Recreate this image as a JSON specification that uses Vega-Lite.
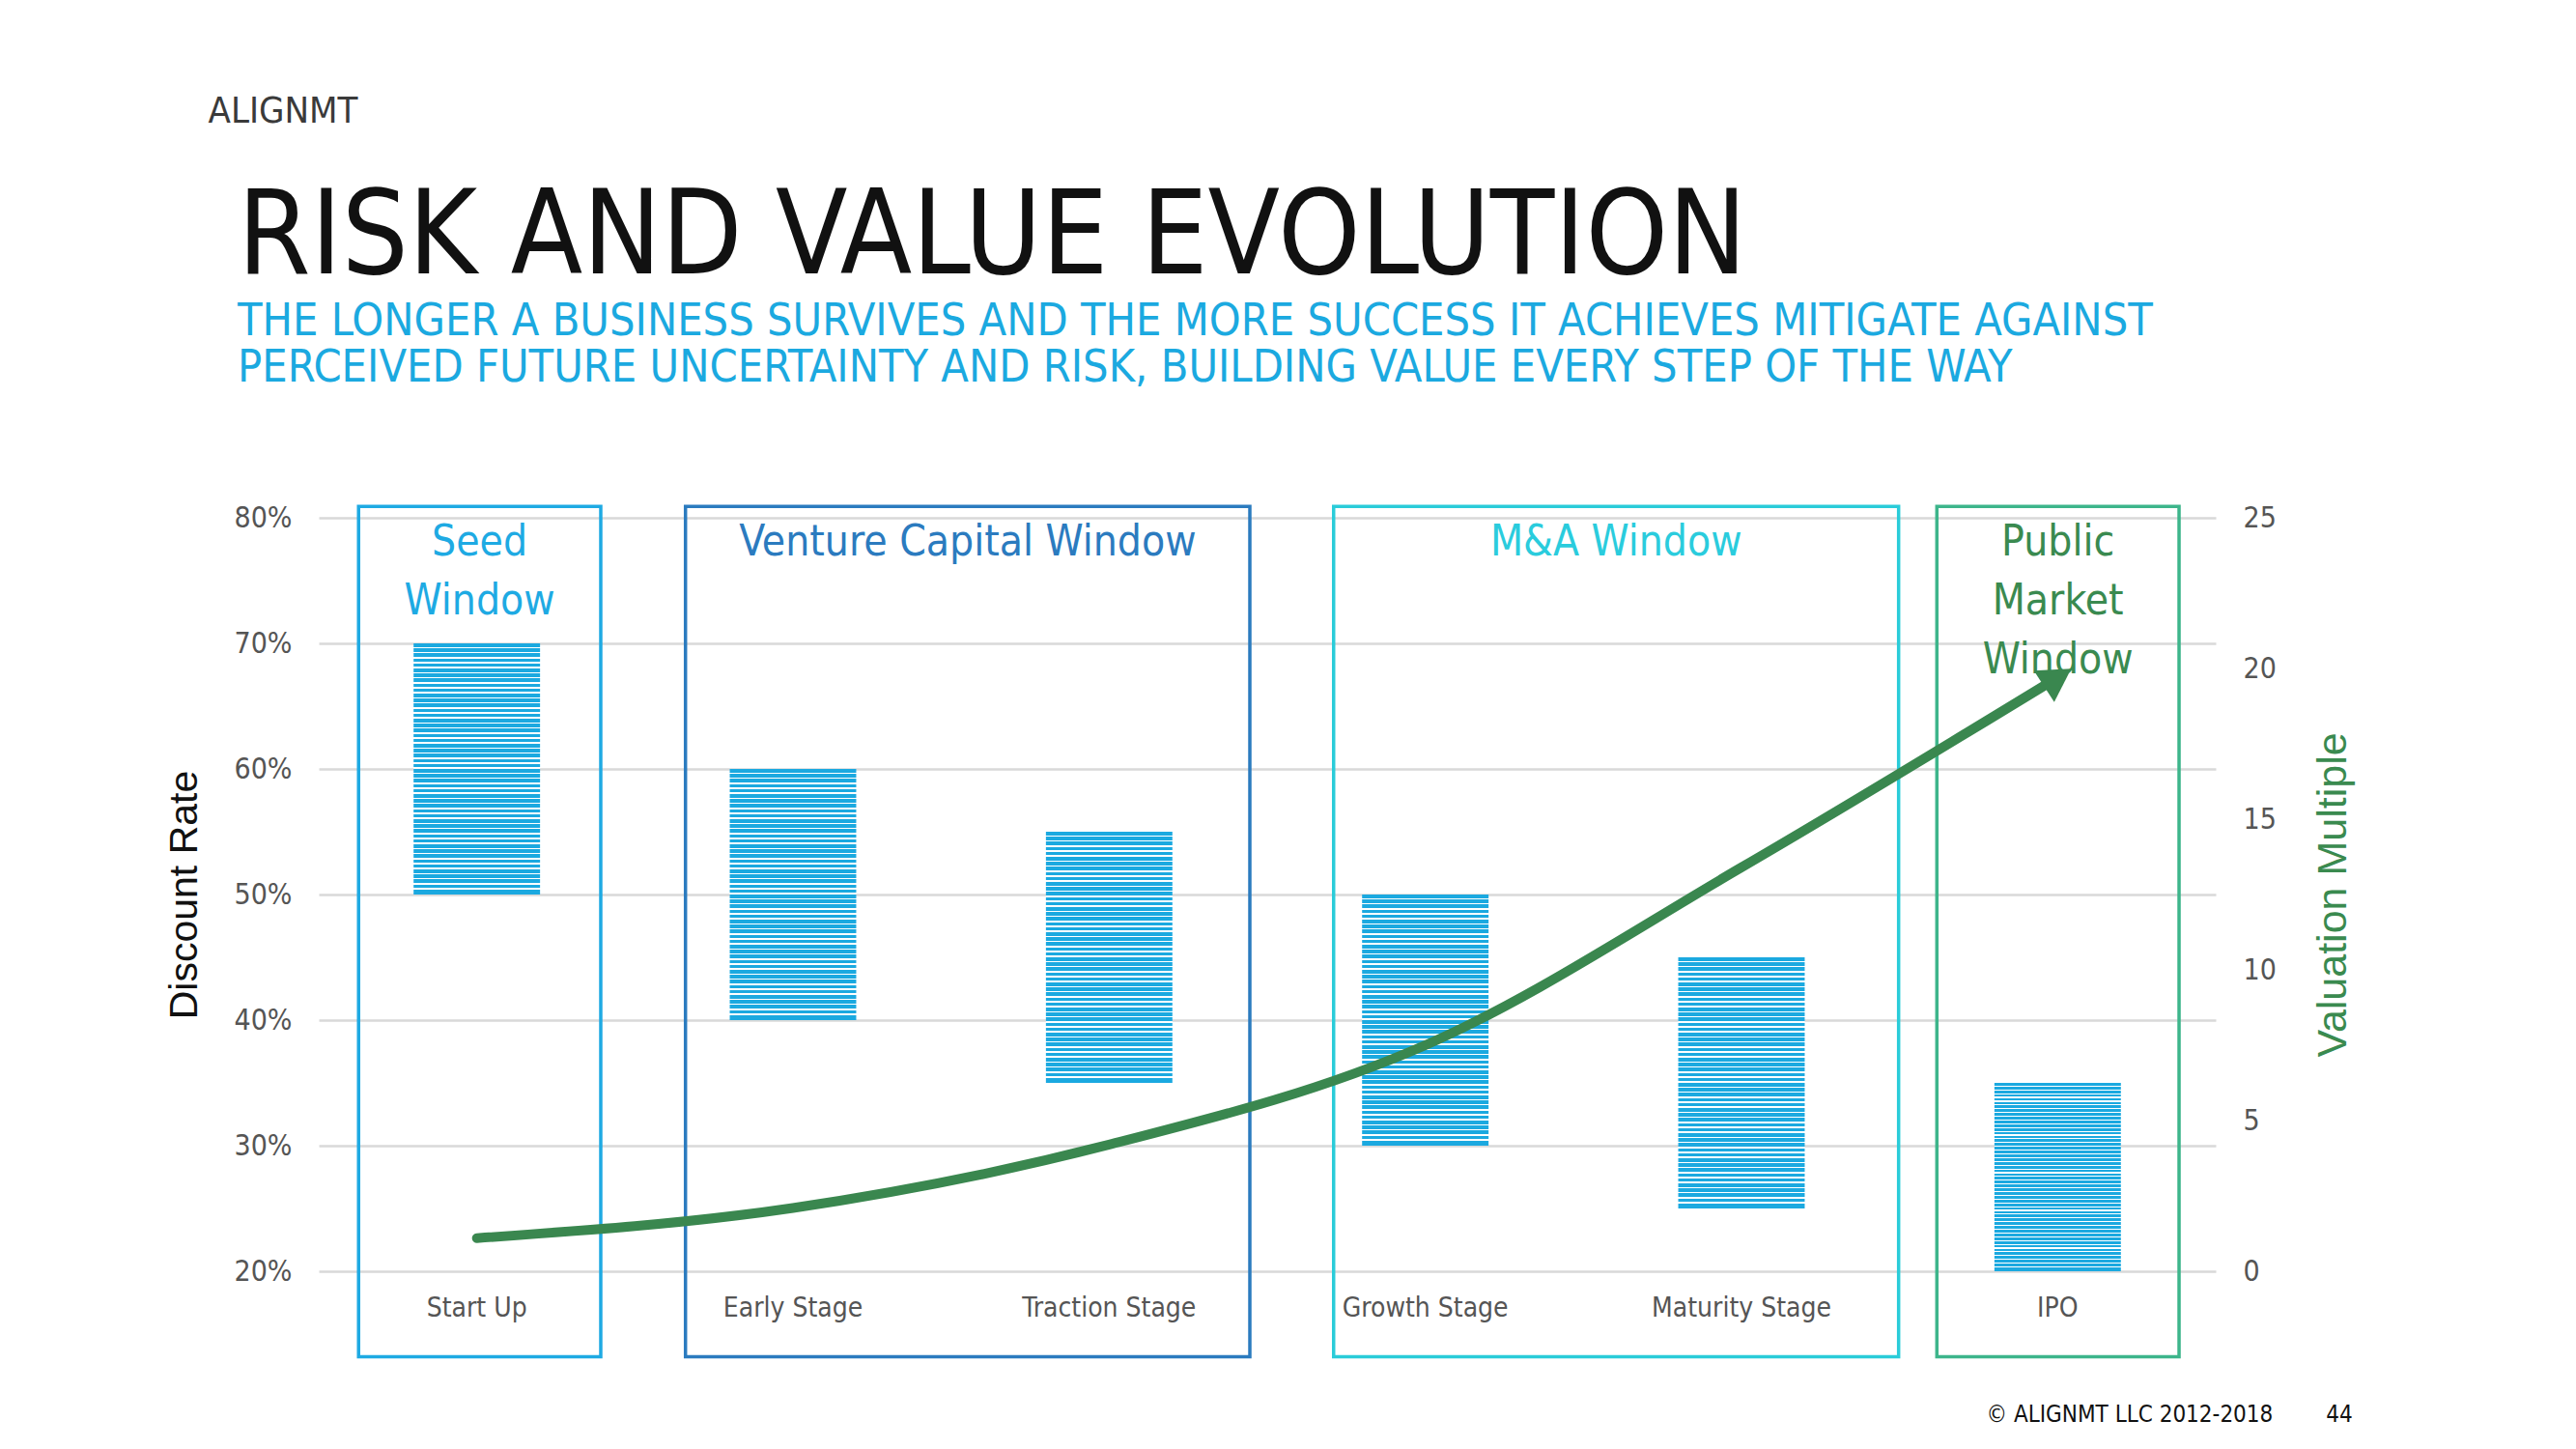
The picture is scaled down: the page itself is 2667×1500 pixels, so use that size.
{
  "$schema": "https://vega.github.io/schema/vega-lite/v6.json",
  "description": "Risk and value evolution: discount rate ranges by stage with valuation multiple curve",
  "autosize": "none",
  "width": 1964,
  "height": 780,
  "padding": {"left": 330, "top": 536, "right": 373, "bottom": 184},
  "background": "#ffffff",
  "title": {
    "text": "RISK AND VALUE EVOLUTION",
    "subtitle": [
      "THE LONGER A BUSINESS SURVIVES AND THE MORE SUCCESS IT ACHIEVES MITIGATE AGAINST",
      "PERCEIVED FUTURE UNCERTAINTY AND RISK, BUILDING VALUE EVERY STEP OF THE WAY"
    ],
    "anchor": "start",
    "frame": "group",
    "orient": "top",
    "dx": -84,
    "dy": 309,
    "offset": 0,
    "font": "DejaVu Sans Condensed, sans-serif",
    "fontSize": 121,
    "fontWeight": "normal",
    "color": "#111111",
    "subtitleFont": "DejaVu Sans Condensed, sans-serif",
    "subtitleFontSize": 46.5,
    "subtitleColor": "#1ba9e0",
    "subtitleLineHeight": 48,
    "subtitlePadding": 2
  },
  "datasets": {
    "stages": [
      {"stage": "Start Up", "lo": 0.5, "hi": 0.7, "mult": 1.1},
      {"stage": "Early Stage", "lo": 0.4, "hi": 0.6, "mult": 2.1},
      {"stage": "Traction Stage", "lo": 0.35, "hi": 0.55, "mult": 4.2},
      {"stage": "Growth Stage", "lo": 0.3, "hi": 0.5, "mult": 7.5},
      {"stage": "Maturity Stage", "lo": 0.25, "hi": 0.45, "mult": 13.4},
      {"stage": "IPO", "lo": 0.2, "hi": 0.35, "mult": 19.7}
    ],
    "windows": [
      {"window": "Seed", "label": "Seed\nWindow", "x0": 0.126, "x1": 0.892},
      {"window": "VC", "label": "Venture Capital Window", "x0": 1.16, "x1": 2.945},
      {"window": "MA", "label": "M&A Window", "x0": 3.21, "x1": 4.997},
      {"window": "Public", "label": "Public\nMarket\nWindow", "x0": 5.118, "x1": 5.884}
    ]
  },
  "layer": [
    {
      "data": {"name": "windows"},
      "mark": {"type": "rect", "filled": false, "strokeWidth": 3.5},
      "encoding": {
        "x": {
          "field": "x0", "type": "quantitative",
          "scale": {"domain": [0, 6], "nice": false, "zero": false},
          "axis": {
            "orient": "top", "labels": false, "ticks": false, "domain": false, "grid": false,
            "title": "ALIGNMT", "titleX": -115, "titleY": -410, "titleAlign": "left",
            "titleBaseline": "alphabetic", "titleAngle": 0,
            "titleFont": "DejaVu Sans Condensed, sans-serif",
            "titleFontSize": 38, "titleFontWeight": "normal", "titleColor": "#3a3a3a"
          }
        },
        "x2": {"field": "x1"},
        "y": {"datum": 0.809, "type": "quantitative", "scale": {"domain": [0.2, 0.8], "nice": false, "zero": false}, "axis": null},
        "y2": {"datum": 0.132},
        "stroke": {
          "field": "window", "type": "nominal", "legend": null,
          "scale": {"domain": ["Seed", "VC", "MA", "Public"], "range": ["#1eaae3", "#2b7bbf", "#2accd9", "#3db58b"]}
        }
      }
    },
    {
      "data": {"name": "windows"},
      "transform": [{"calculate": "(datum.x0 + datum.x1) / 2", "as": "mid"}],
      "mark": {
        "type": "text", "lineBreak": "\n", "baseline": "top", "align": "center",
        "font": "DejaVu Sans Condensed, sans-serif",
        "fontSize": 44, "lineHeight": 61
      },
      "encoding": {
        "x": {"field": "mid", "type": "quantitative", "scale": {"domain": [0, 6], "nice": false, "zero": false}, "axis": null},
        "y": {"datum": 0.797, "type": "quantitative", "scale": {"domain": [0.2, 0.8], "nice": false, "zero": false}, "axis": null},
        "text": {"field": "label"},
        "color": {
          "field": "window", "type": "nominal", "legend": null,
          "scale": {"domain": ["Seed", "VC", "MA", "Public"], "range": ["#1eaae3", "#2b7bbf", "#2accdd", "#3a8a50"]}
        }
      }
    },
    {
      "data": {"name": "stages"},
      "mark": {
        "type": "bar",
        "width": {"band": 0.4},
        "fill": {
          "gradient": "linear", "x1": 0, "y1": 0, "x2": 0, "y2": 1,
          "stops": [
            {"offset": 0, "color": "#1ba9e0"}, {"offset": 0.014, "color": "#1ba9e0"}, {"offset": 0.014, "color": "#ffffff"}, {"offset": 0.02, "color": "#ffffff"},
            {"offset": 0.02, "color": "#1ba9e0"}, {"offset": 0.034, "color": "#1ba9e0"}, {"offset": 0.034, "color": "#ffffff"}, {"offset": 0.04, "color": "#ffffff"},
            {"offset": 0.04, "color": "#1ba9e0"}, {"offset": 0.054, "color": "#1ba9e0"}, {"offset": 0.054, "color": "#ffffff"}, {"offset": 0.06, "color": "#ffffff"},
            {"offset": 0.06, "color": "#1ba9e0"}, {"offset": 0.074, "color": "#1ba9e0"}, {"offset": 0.074, "color": "#ffffff"}, {"offset": 0.08, "color": "#ffffff"},
            {"offset": 0.08, "color": "#1ba9e0"}, {"offset": 0.094, "color": "#1ba9e0"}, {"offset": 0.094, "color": "#ffffff"}, {"offset": 0.1, "color": "#ffffff"},
            {"offset": 0.1, "color": "#1ba9e0"}, {"offset": 0.114, "color": "#1ba9e0"}, {"offset": 0.114, "color": "#ffffff"}, {"offset": 0.12, "color": "#ffffff"},
            {"offset": 0.12, "color": "#1ba9e0"}, {"offset": 0.134, "color": "#1ba9e0"}, {"offset": 0.134, "color": "#ffffff"}, {"offset": 0.14, "color": "#ffffff"},
            {"offset": 0.14, "color": "#1ba9e0"}, {"offset": 0.154, "color": "#1ba9e0"}, {"offset": 0.154, "color": "#ffffff"}, {"offset": 0.16, "color": "#ffffff"},
            {"offset": 0.16, "color": "#1ba9e0"}, {"offset": 0.174, "color": "#1ba9e0"}, {"offset": 0.174, "color": "#ffffff"}, {"offset": 0.18, "color": "#ffffff"},
            {"offset": 0.18, "color": "#1ba9e0"}, {"offset": 0.194, "color": "#1ba9e0"}, {"offset": 0.194, "color": "#ffffff"}, {"offset": 0.2, "color": "#ffffff"},
            {"offset": 0.2, "color": "#1ba9e0"}, {"offset": 0.214, "color": "#1ba9e0"}, {"offset": 0.214, "color": "#ffffff"}, {"offset": 0.22, "color": "#ffffff"},
            {"offset": 0.22, "color": "#1ba9e0"}, {"offset": 0.234, "color": "#1ba9e0"}, {"offset": 0.234, "color": "#ffffff"}, {"offset": 0.24, "color": "#ffffff"},
            {"offset": 0.24, "color": "#1ba9e0"}, {"offset": 0.254, "color": "#1ba9e0"}, {"offset": 0.254, "color": "#ffffff"}, {"offset": 0.26, "color": "#ffffff"},
            {"offset": 0.26, "color": "#1ba9e0"}, {"offset": 0.274, "color": "#1ba9e0"}, {"offset": 0.274, "color": "#ffffff"}, {"offset": 0.28, "color": "#ffffff"},
            {"offset": 0.28, "color": "#1ba9e0"}, {"offset": 0.294, "color": "#1ba9e0"}, {"offset": 0.294, "color": "#ffffff"}, {"offset": 0.3, "color": "#ffffff"},
            {"offset": 0.3, "color": "#1ba9e0"}, {"offset": 0.314, "color": "#1ba9e0"}, {"offset": 0.314, "color": "#ffffff"}, {"offset": 0.32, "color": "#ffffff"},
            {"offset": 0.32, "color": "#1ba9e0"}, {"offset": 0.334, "color": "#1ba9e0"}, {"offset": 0.334, "color": "#ffffff"}, {"offset": 0.34, "color": "#ffffff"},
            {"offset": 0.34, "color": "#1ba9e0"}, {"offset": 0.354, "color": "#1ba9e0"}, {"offset": 0.354, "color": "#ffffff"}, {"offset": 0.36, "color": "#ffffff"},
            {"offset": 0.36, "color": "#1ba9e0"}, {"offset": 0.374, "color": "#1ba9e0"}, {"offset": 0.374, "color": "#ffffff"}, {"offset": 0.38, "color": "#ffffff"},
            {"offset": 0.38, "color": "#1ba9e0"}, {"offset": 0.394, "color": "#1ba9e0"}, {"offset": 0.394, "color": "#ffffff"}, {"offset": 0.4, "color": "#ffffff"},
            {"offset": 0.4, "color": "#1ba9e0"}, {"offset": 0.414, "color": "#1ba9e0"}, {"offset": 0.414, "color": "#ffffff"}, {"offset": 0.42, "color": "#ffffff"},
            {"offset": 0.42, "color": "#1ba9e0"}, {"offset": 0.434, "color": "#1ba9e0"}, {"offset": 0.434, "color": "#ffffff"}, {"offset": 0.44, "color": "#ffffff"},
            {"offset": 0.44, "color": "#1ba9e0"}, {"offset": 0.454, "color": "#1ba9e0"}, {"offset": 0.454, "color": "#ffffff"}, {"offset": 0.46, "color": "#ffffff"},
            {"offset": 0.46, "color": "#1ba9e0"}, {"offset": 0.474, "color": "#1ba9e0"}, {"offset": 0.474, "color": "#ffffff"}, {"offset": 0.48, "color": "#ffffff"},
            {"offset": 0.48, "color": "#1ba9e0"}, {"offset": 0.494, "color": "#1ba9e0"}, {"offset": 0.494, "color": "#ffffff"}, {"offset": 0.5, "color": "#ffffff"},
            {"offset": 0.5, "color": "#1ba9e0"}, {"offset": 0.514, "color": "#1ba9e0"}, {"offset": 0.514, "color": "#ffffff"}, {"offset": 0.52, "color": "#ffffff"},
            {"offset": 0.52, "color": "#1ba9e0"}, {"offset": 0.534, "color": "#1ba9e0"}, {"offset": 0.534, "color": "#ffffff"}, {"offset": 0.54, "color": "#ffffff"},
            {"offset": 0.54, "color": "#1ba9e0"}, {"offset": 0.554, "color": "#1ba9e0"}, {"offset": 0.554, "color": "#ffffff"}, {"offset": 0.56, "color": "#ffffff"},
            {"offset": 0.56, "color": "#1ba9e0"}, {"offset": 0.574, "color": "#1ba9e0"}, {"offset": 0.574, "color": "#ffffff"}, {"offset": 0.58, "color": "#ffffff"},
            {"offset": 0.58, "color": "#1ba9e0"}, {"offset": 0.594, "color": "#1ba9e0"}, {"offset": 0.594, "color": "#ffffff"}, {"offset": 0.6, "color": "#ffffff"},
            {"offset": 0.6, "color": "#1ba9e0"}, {"offset": 0.614, "color": "#1ba9e0"}, {"offset": 0.614, "color": "#ffffff"}, {"offset": 0.62, "color": "#ffffff"},
            {"offset": 0.62, "color": "#1ba9e0"}, {"offset": 0.634, "color": "#1ba9e0"}, {"offset": 0.634, "color": "#ffffff"}, {"offset": 0.64, "color": "#ffffff"},
            {"offset": 0.64, "color": "#1ba9e0"}, {"offset": 0.654, "color": "#1ba9e0"}, {"offset": 0.654, "color": "#ffffff"}, {"offset": 0.66, "color": "#ffffff"},
            {"offset": 0.66, "color": "#1ba9e0"}, {"offset": 0.674, "color": "#1ba9e0"}, {"offset": 0.674, "color": "#ffffff"}, {"offset": 0.68, "color": "#ffffff"},
            {"offset": 0.68, "color": "#1ba9e0"}, {"offset": 0.694, "color": "#1ba9e0"}, {"offset": 0.694, "color": "#ffffff"}, {"offset": 0.7, "color": "#ffffff"},
            {"offset": 0.7, "color": "#1ba9e0"}, {"offset": 0.714, "color": "#1ba9e0"}, {"offset": 0.714, "color": "#ffffff"}, {"offset": 0.72, "color": "#ffffff"},
            {"offset": 0.72, "color": "#1ba9e0"}, {"offset": 0.734, "color": "#1ba9e0"}, {"offset": 0.734, "color": "#ffffff"}, {"offset": 0.74, "color": "#ffffff"},
            {"offset": 0.74, "color": "#1ba9e0"}, {"offset": 0.754, "color": "#1ba9e0"}, {"offset": 0.754, "color": "#ffffff"}, {"offset": 0.76, "color": "#ffffff"},
            {"offset": 0.76, "color": "#1ba9e0"}, {"offset": 0.774, "color": "#1ba9e0"}, {"offset": 0.774, "color": "#ffffff"}, {"offset": 0.78, "color": "#ffffff"},
            {"offset": 0.78, "color": "#1ba9e0"}, {"offset": 0.794, "color": "#1ba9e0"}, {"offset": 0.794, "color": "#ffffff"}, {"offset": 0.8, "color": "#ffffff"},
            {"offset": 0.8, "color": "#1ba9e0"}, {"offset": 0.814, "color": "#1ba9e0"}, {"offset": 0.814, "color": "#ffffff"}, {"offset": 0.82, "color": "#ffffff"},
            {"offset": 0.82, "color": "#1ba9e0"}, {"offset": 0.834, "color": "#1ba9e0"}, {"offset": 0.834, "color": "#ffffff"}, {"offset": 0.84, "color": "#ffffff"},
            {"offset": 0.84, "color": "#1ba9e0"}, {"offset": 0.854, "color": "#1ba9e0"}, {"offset": 0.854, "color": "#ffffff"}, {"offset": 0.86, "color": "#ffffff"},
            {"offset": 0.86, "color": "#1ba9e0"}, {"offset": 0.874, "color": "#1ba9e0"}, {"offset": 0.874, "color": "#ffffff"}, {"offset": 0.88, "color": "#ffffff"},
            {"offset": 0.88, "color": "#1ba9e0"}, {"offset": 0.894, "color": "#1ba9e0"}, {"offset": 0.894, "color": "#ffffff"}, {"offset": 0.9, "color": "#ffffff"},
            {"offset": 0.9, "color": "#1ba9e0"}, {"offset": 0.914, "color": "#1ba9e0"}, {"offset": 0.914, "color": "#ffffff"}, {"offset": 0.92, "color": "#ffffff"},
            {"offset": 0.92, "color": "#1ba9e0"}, {"offset": 0.934, "color": "#1ba9e0"}, {"offset": 0.934, "color": "#ffffff"}, {"offset": 0.94, "color": "#ffffff"},
            {"offset": 0.94, "color": "#1ba9e0"}, {"offset": 0.954, "color": "#1ba9e0"}, {"offset": 0.954, "color": "#ffffff"}, {"offset": 0.96, "color": "#ffffff"},
            {"offset": 0.96, "color": "#1ba9e0"}, {"offset": 0.974, "color": "#1ba9e0"}, {"offset": 0.974, "color": "#ffffff"}, {"offset": 0.98, "color": "#ffffff"},
            {"offset": 0.98, "color": "#1ba9e0"}, {"offset": 1, "color": "#1ba9e0"}
          ]
        }
      },
      "encoding": {
        "x": {
          "field": "stage", "type": "nominal",
          "sort": ["Start Up", "Early Stage", "Traction Stage", "Growth Stage", "Maturity Stage", "IPO"],
          "scale": {"type": "band", "paddingInner": 0, "paddingOuter": 0},
          "axis": {
            "orient": "bottom", "labelAngle": 0, "labelPadding": 24, "labelLimit": 0, "ticks": false, "domain": false, "grid": false,
            "labelFont": "DejaVu Sans Condensed, sans-serif",
            "labelFontSize": 28, "labelColor": "#555555",
            "title": "© ALIGNMT LLC 2012-2018\u00a0\u00a0\u00a0\u00a0\u00a0\u00a0\u00a0\u00a044",
            "titleX": 1726, "titleY": 155, "titleAlign": "left", "titleBaseline": "alphabetic", "titleAngle": 0,
            "titleFont": "DejaVu Sans Condensed, sans-serif",
            "titleFontSize": 24, "titleFontWeight": "normal", "titleColor": "#111111"
          }
        },
        "y": {
          "field": "lo", "type": "quantitative",
          "scale": {"domain": [0.2, 0.8], "nice": false, "zero": false},
          "axis": {
            "orient": "left", "format": ".0%", "values": [0.2, 0.3, 0.4, 0.5, 0.6, 0.7, 0.8],
            "grid": true, "gridColor": "#d9d9d9", "gridWidth": 2.5, "ticks": false, "domain": false,
            "labelPadding": 28, "labelFont": "DejaVu Sans Condensed, sans-serif",
            "labelFontSize": 30, "labelColor": "#555555",
            "title": "Discount Rate", "titleFont": "Liberation Sans, Arial, sans-serif",
            "titleFontSize": 41, "titleFontWeight": "normal", "titleColor": "#111111", "titlePadding": 30
          }
        },
        "y2": {"field": "hi"}
      }
    },
    {
      "data": {"name": "stages"},
      "mark": {"type": "line", "interpolate": "monotone", "strokeWidth": 10, "strokeCap": "round", "color": "#3a874f"},
      "encoding": {
        "x": {
          "field": "stage", "type": "nominal", "bandPosition": 0.5,
          "sort": ["Start Up", "Early Stage", "Traction Stage", "Growth Stage", "Maturity Stage", "IPO"],
          "scale": {"type": "band", "paddingInner": 0, "paddingOuter": 0, "domain": ["Start Up", "Early Stage", "Traction Stage", "Growth Stage", "Maturity Stage", "IPO"]},
          "axis": null
        },
        "y": {
          "field": "mult", "type": "quantitative",
          "scale": {"domain": [0, 25], "nice": false, "zero": false},
          "axis": {
            "orient": "right", "values": [0, 5, 10, 15, 20, 25], "grid": false, "ticks": false, "domain": false,
            "labelPadding": 28, "labelFont": "DejaVu Sans Condensed, sans-serif",
            "labelFontSize": 30, "labelColor": "#555555",
            "title": "Valuation Multiple", "titleFont": "Liberation Sans, Arial, sans-serif",
            "titleFontSize": 43, "titleFontWeight": "normal", "titleColor": "#3a8a4f",
            "titleAngle": 270, "titleBaseline": "top", "titlePadding": 38
          }
        }
      }
    },
    {
      "data": {"name": "stages"},
      "transform": [{"filter": "datum.stage === 'IPO'"}],
      "mark": {"type": "point", "shape": "triangle-up", "filled": true, "opacity": 1, "size": 1500, "angle": 57, "color": "#3a874f"},
      "encoding": {
        "x": {
          "field": "stage", "type": "nominal", "bandPosition": 0.5,
          "scale": {"type": "band", "paddingInner": 0, "paddingOuter": 0, "domain": ["Start Up", "Early Stage", "Traction Stage", "Growth Stage", "Maturity Stage", "IPO"]},
          "axis": null
        },
        "y": {"field": "mult", "type": "quantitative", "scale": {"domain": [0, 25], "nice": false, "zero": false}, "axis": null}
      }
    }
  ],
  "resolve": {"scale": {"x": "independent", "y": "independent", "color": "independent", "stroke": "independent"}},
  "config": {"view": {"stroke": null}}
}
